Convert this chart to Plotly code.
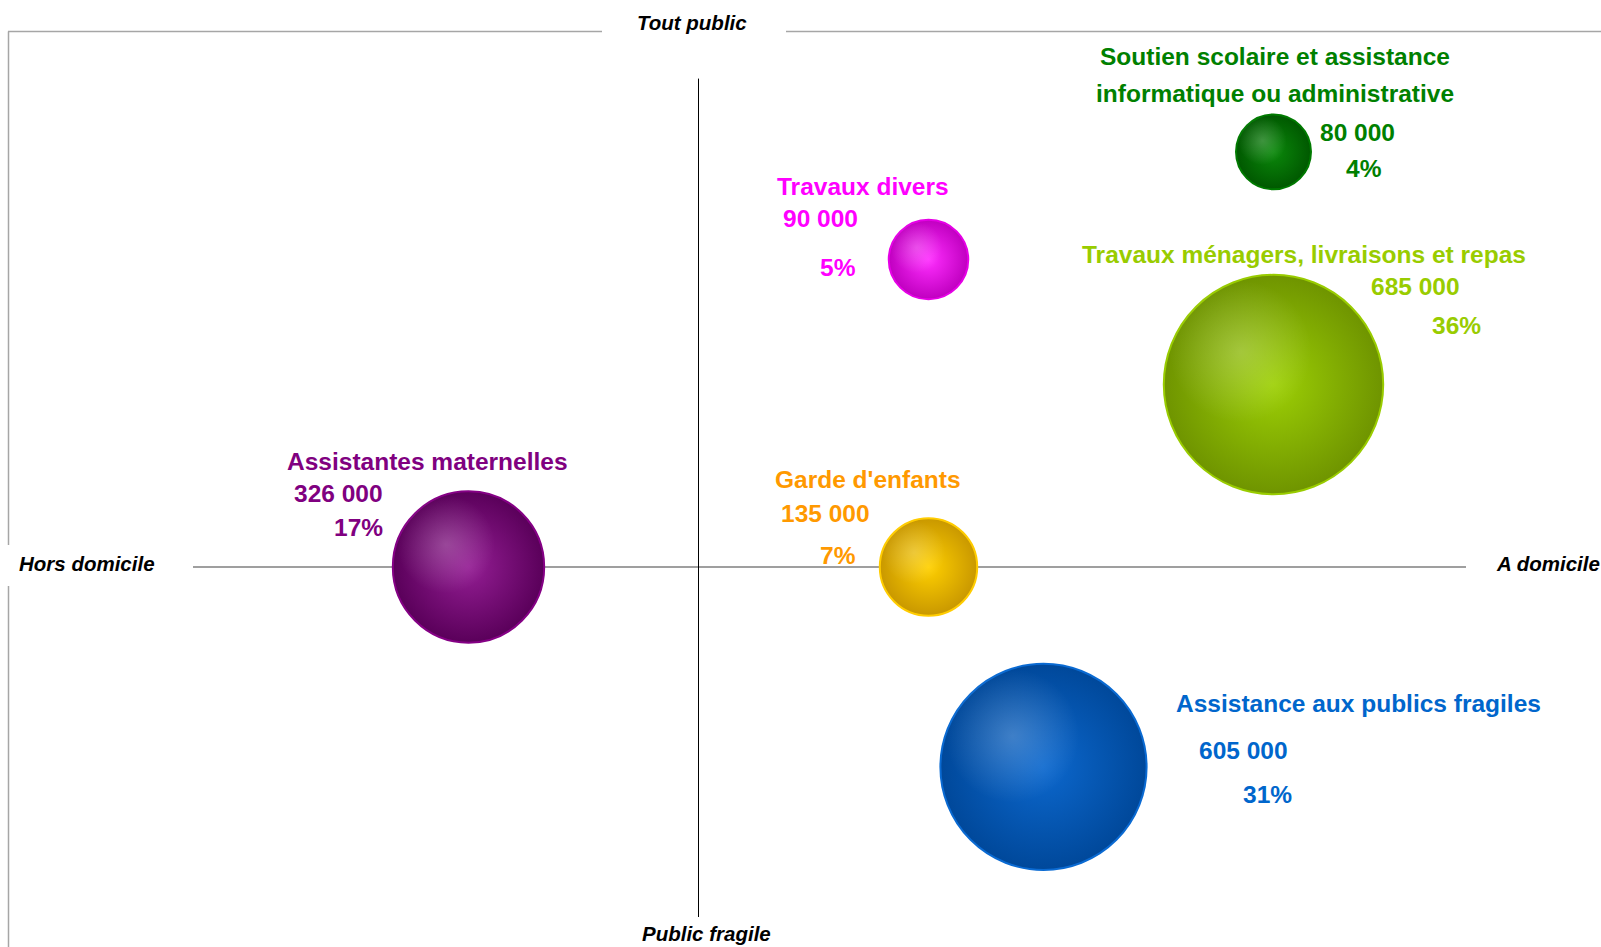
import plotly.graph_objects as go
import math

# ---------------- data ----------------
categories = [
    "Assistantes maternelles",
    "Garde d'enfants",
    "Travaux divers",
    "Soutien scolaire et assistance<br>informatique ou administrative",
    "Travaux ménagers, livraisons et repas",
    "Assistance aux publics fragiles",
]
x_pos = [-2, 2, 2, 5, 5, 3]          # Hors domicile (<0)  /  A domicile (>0)
y_pos = [0, 0, 3, 4.05, 1.78, -1.95]  # Public fragile (<0) /  Tout public (>0)
effectifs = [326000, 135000, 90000, 80000, 685000, 605000]
parts = [17, 7, 5, 4, 36, 31]

axis_labels = ["Tout public", "Public fragile", "Hors domicile", "A domicile"]

# ---------------- styles ----------------
text_colors = ["#800080", "#FF9900", "#FF00FF", "#008000", "#99CC00", "#0066CC"]
center_colors = ["#941E94", "#FFD000", "#FF2EFF", "#0B880B", "#9DD005", "#0C68CE"]
edge_colors = ["#5A005A", "#C99800", "#C000C0", "#005800", "#6F9400", "#00489A"]
outline_colors = ["#850085", "#FFCC00", "#E600E6", "#007A00", "#99CC00", "#0A6AD2"]

W, H = 1601, 947
X0, Y0 = 698.5, 567      # pixel position of the cross
UX, UY = 115.0, 102.5    # pixels per data unit

def dx(px):
    return (px - X0) / UX

def dy(py):
    return (Y0 - py) / UY

def pxp(px):
    return px / W

def pyp(py):
    return 1 - py / H

FONT = "Liberation Sans, Arial, sans-serif"
LINE_W = 2
max_r = 109.7
sizeref = max(effectifs) / 2.0 / max_r ** 2
radii = [math.sqrt(v / 2.0 / sizeref) for v in effectifs]

fig = go.Figure()

# plotly radial gradient: gradient.color = centre, marker.color = rim
fig.add_trace(go.Scatter(
    x=x_pos, y=y_pos, mode="markers",
    marker=dict(
        size=effectifs, sizemode="area", sizeref=sizeref,
        color=edge_colors,
        gradient=dict(type="radial", color=center_colors),
        line=dict(color=outline_colors, width=LINE_W),
        opacity=1,
    ),
    hoverinfo="skip", showlegend=False,
))

# soft highlight spot (up-left) for the 3D look
hx = [x - 0.3 * r / UX for x, r in zip(x_pos, radii)]
hy = [y + 0.3 * r / UY for y, r in zip(y_pos, radii)]
fig.add_trace(go.Scatter(
    x=hx, y=hy, mode="markers",
    marker=dict(
        size=[v * 0.42 for v in effectifs], sizemode="area", sizeref=sizeref,
        color="rgba(255,255,255,0)",
        gradient=dict(type="radial", color="rgba(255,255,255,0.32)"),
        line=dict(width=0),
    ),
    hoverinfo="skip", showlegend=False,
))

# label positions (pixel centres, one per text line)
name_px = [[(427, 461.5)], [(868, 479)], [(863, 186)], [(1275, 56), (1275, 93)],
           [(1304, 254)], [(1358, 703.5)]]
val_px = [(338, 493), (825, 513.6), (820, 218.5), (1357, 132), (1415, 286), (1243, 750.5)]
pct_px = [(358, 527), (838, 555.5), (838, 267.5), (1364, 168), (1456, 325), (1267, 794)]

annotations = []
LBL = 24.5
for i, cat in enumerate(categories):
    f = dict(family=FONT, size=LBL, color=text_colors[i], weight="bold")
    items = list(zip(cat.split("<br>"), name_px[i]))
    items += [
        (f"{effectifs[i]:,}".replace(",", " "), val_px[i]),
        (f"{parts[i]}%", pct_px[i]),
    ]
    for txt, (px, py) in items:
        annotations.append(dict(
            x=dx(px), y=dy(py), xref="x", yref="y", text=txt, showarrow=False,
            xanchor="center", yanchor="middle", font=f, align="center",
        ))

AF = dict(family=FONT, size=20.5, color="black", weight="bold", style="italic")
annotations += [
    dict(x=pxp(692), y=pyp(22.5), xref="paper", yref="paper", text=axis_labels[0],
         showarrow=False, xanchor="center", yanchor="middle", font=AF),
    dict(x=pxp(706), y=pyp(933), xref="paper", yref="paper", text=axis_labels[1],
         showarrow=False, xanchor="center", yanchor="middle", font=AF),
    dict(x=pxp(17), y=pyp(563), xref="paper", yref="paper", text=axis_labels[2],
         showarrow=False, xanchor="left", yanchor="middle", font=AF),
    dict(x=pxp(1494), y=pyp(563), xref="paper", yref="paper", text=axis_labels[3],
         showarrow=False, xanchor="left", yanchor="middle", font=AF),
]

GRAY = "#A6A6A6"
shapes = []
def seg(x1, y1, x2, y2, color, width):
    shapes.append(dict(type="line", xref="paper", yref="paper",
                       x0=pxp(x1), y0=pyp(y1), x1=pxp(x2), y1=pyp(y2),
                       line=dict(color=color, width=width), layer="below"))

# frame
seg(8, 31.5, 602, 31.5, GRAY, 1.5)
seg(786, 31.5, W + 5, 31.5, GRAY, 1.5)
seg(8.5, 31.5, 8.5, 545, GRAY, 1.5)
seg(8.5, 586, 8.5, H + 5, GRAY, 1.5)
# cross
seg(193, Y0, 1466, Y0, "#7F7F7F", 1.5)
seg(X0, 78.6, X0, 917, "black", 1)

fig.update_layout(
    width=W, height=H, autosize=False,
    margin=dict(l=0, r=0, t=0, b=0, pad=0),
    paper_bgcolor="white", plot_bgcolor="white",
    xaxis=dict(range=[dx(0), dx(W)], visible=False, fixedrange=True),
    yaxis=dict(range=[dy(H), dy(0)], visible=False, fixedrange=True),
    annotations=annotations, shapes=shapes, showlegend=False,
)

fig.write_html("out.html", config={"displayModeBar": False})
